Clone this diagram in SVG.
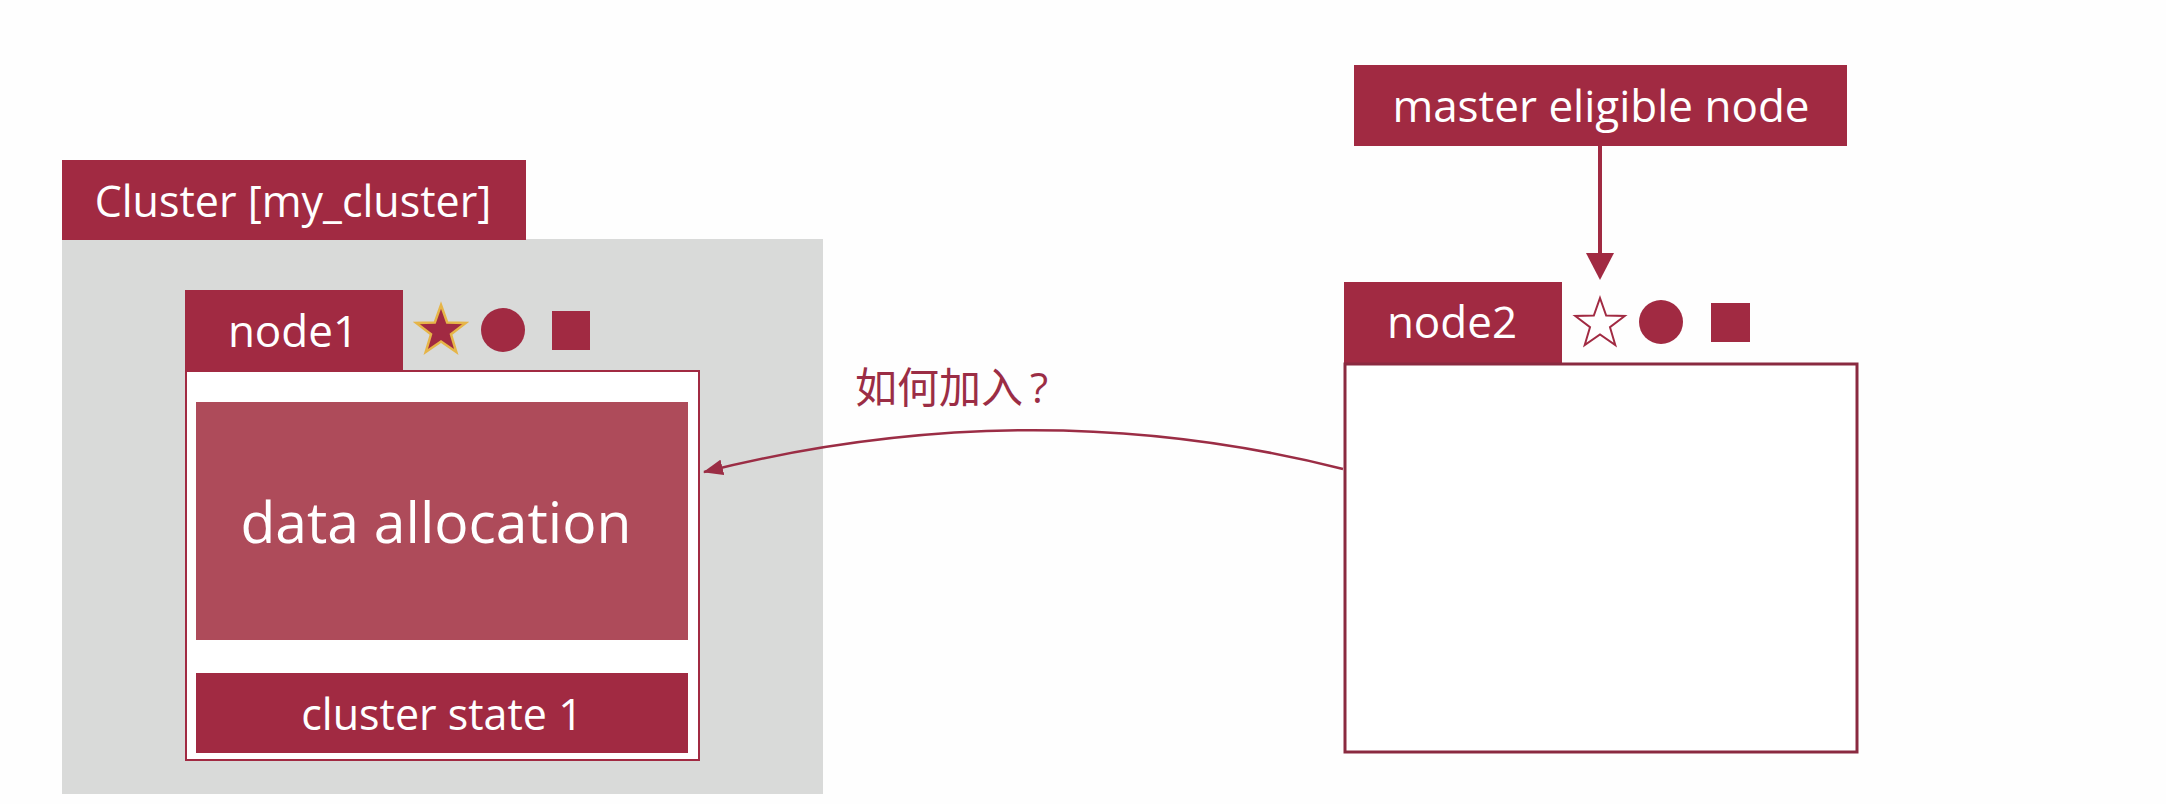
<svg xmlns="http://www.w3.org/2000/svg" width="2166" height="804" viewBox="0 0 2166 804">
<style>
.lbl{font-family:"Open Sans","Noto Sans","Liberation Sans",sans-serif;fill:#ffffff;text-anchor:middle}
.red{fill:#a12a42}
.cjk{font-family:"Noto Sans CJK SC","Noto Sans",sans-serif;fill:#9b2d45}
</style>
<defs>
<polygon id="star" points="0,-26 6.17,-8.49 24.73,-8.03 9.99,3.24 15.28,21.03 0,10.5 -15.28,21.03 -9.99,3.24 -24.73,-8.03 -6.17,-8.49"/>
<marker id="ah" viewBox="0 0 20 16" refX="19" refY="8" markerWidth="20" markerHeight="16" markerUnits="userSpaceOnUse" orient="auto">
<path d="M0,0 L20,8 L0,16 z" fill="#9b2d45"/>
</marker>
</defs>
<rect width="2166" height="804" fill="#fefefe"/>
<g id="cluster">
<rect x="62" y="239" width="761" height="555" fill="#d9dad9"/>
<rect class="red" x="62" y="160" width="464" height="80"/>
<text class="lbl" x="293" y="217" font-size="43">Cluster [my_cluster]</text>
</g>
<g id="node1">
<rect class="red" x="185" y="290" width="218" height="82"/>
<text class="lbl" x="293" y="347" font-size="44">node1</text>
<rect x="186" y="371" width="513" height="389" fill="#ffffff" stroke="#a12a42" stroke-width="2"/>
<rect x="196" y="402" width="492" height="238" fill="#ae4b5a"/>
<text class="lbl" x="436" y="543" font-size="57">data allocation</text>
<rect class="red" x="196" y="673" width="492" height="80"/>
<text class="lbl" x="442" y="730" font-size="43">cluster state 1</text>
<use href="#star" x="441" y="331" fill="#a12a42" stroke="#e6b548" stroke-width="2.5"/>
<circle class="red" cx="503" cy="330" r="22"/>
<rect class="red" x="552" y="311" width="38" height="39"/>
</g>
<g id="master">
<rect class="red" x="1354" y="65" width="493" height="81"/>
<text class="lbl" x="1601" y="122" font-size="44">master eligible node</text>
</g>
<g id="node2">
<rect class="red" x="1344" y="282" width="218" height="82"/>
<text class="lbl" x="1452" y="338" font-size="44">node2</text>
<rect x="1345" y="364" width="512" height="388" fill="#ffffff" stroke="#8a2a40" stroke-width="3"/>
<use href="#star" x="1600" y="324" fill="#ffffff" stroke="#a12a42" stroke-width="2"/>
<circle class="red" cx="1661" cy="322" r="22"/>
<rect class="red" x="1711" y="303" width="39" height="39"/>
</g>
<g id="connectors">
<line x1="1600" y1="146" x2="1600" y2="256" stroke="#a12a42" stroke-width="4"/>
<polygon points="1586,253 1614,253 1600,280" fill="#a12a42"/>
<path d="M1343,469 Q1031,390 704,472" fill="none" stroke="#9b2d45" stroke-width="2.5" marker-end="url(#ah)"/>
<text class="cjk" x="855" y="403" font-size="42">如何加入<tspan x="1030" font-family="Open Sans, sans-serif">?</tspan></text>
</g>
</svg>
